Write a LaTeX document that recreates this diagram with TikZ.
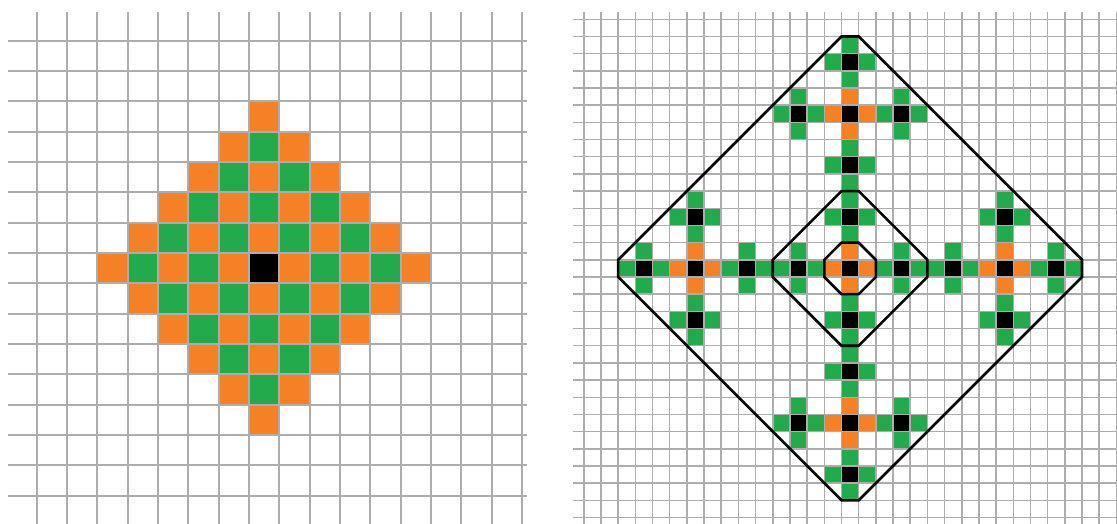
\documentclass[tikz,border=0pt]{standalone}
\usepackage{xcolor}
\definecolor{cellorange}{RGB}{245,128,37}
\definecolor{cellgreen}{RGB}{34,170,76}
\definecolor{gridgray}{RGB}{173,173,173}
\begin{document}
\begin{tikzpicture}[x=1pt,y=-1pt,
  gridA/.style={draw=gridgray,line width=2.1pt},
  gridB/.style={draw=gridgray,line width=1.5pt},
  oct/.style={draw=black,line width=2.6pt,line join=miter},
  og/.style={fill=cellorange},
  gg/.style={fill=cellgreen},
  bg/.style={fill=black}]
\fill[white] (0,0) rectangle (1117,524);
\useasboundingbox (0,0) rectangle (1117,524);

% ---------- left figure ----------
\begin{scope}[shift={(36.7,40.7)},x=30.33pt,y=-30.33pt]
  \foreach \k in {0,...,15}{
    \foreach \m in {0,...,14}{
      \pgfmathtruncatemacro{\d}{abs(\k-7)+abs(\m-7)}
      \ifnum\d<6
        \ifnum\d=0
          \fill[bg] (\k,\m) rectangle ++(1,1);
        \else
          \ifodd\d
            \fill[og] (\k,\m) rectangle ++(1,1);
          \else
            \fill[gg] (\k,\m) rectangle ++(1,1);
          \fi
        \fi
      \fi
    }
  }
\end{scope}
\foreach \k in {0,...,16}{
  \draw[gridA] ({36.7+30.33*\k},12) -- ({36.7+30.33*\k},524);
}
\foreach \m in {0,...,15}{
  \draw[gridA] (8,{40.7+30.33*\m}) -- (527,{40.7+30.33*\m});
}

% ---------- right figure ----------
\begin{scope}[shift={(841.5,277)},x=17.18pt,y=17.18pt]
  \foreach \cx/\cy in {0/0,9/0,-9/0,0/9,0/-9}{
    \fill[bg] (\cx,\cy) rectangle ++(1,1);
    \foreach \dx/\dy in {1/0,-1/0,0/1,0/-1}{
      \fill[og] ({\cx+\dx},{\cy+\dy}) rectangle ++(1,1);
      \fill[gg] ({\cx+2*\dx},{\cy+2*\dy}) rectangle ++(1,1);
      \fill[bg] ({\cx+3*\dx},{\cy+3*\dy}) rectangle ++(1,1);
      \fill[gg] ({\cx+4*\dx},{\cy+4*\dy}) rectangle ++(1,1);
      \fill[gg] ({\cx+3*\dx+\dy},{\cy+3*\dy+\dx}) rectangle ++(1,1);
      \fill[gg] ({\cx+3*\dx-\dy},{\cy+3*\dy-\dx}) rectangle ++(1,1);
    }
  }
\end{scope}
\foreach \i in {-15,...,16}{
  \draw[gridB] ({841.5+17.18*\i},11.7) -- ({841.5+17.18*\i},524);
}
\foreach \j in {-14,...,15}{
  \draw[gridB] (573,{277-17.18*\j}) -- (1117,{277-17.18*\j});
}
\begin{scope}[shift={(841.5,277)},x=17.18pt,y=17.18pt]
  \draw[oct] (0,14) -- (1,14) -- (14,1) -- (14,0) -- (1,-13) -- (0,-13) -- (-13,0) -- (-13,1) -- cycle;
  \draw[oct] (0,5) -- (1,5) -- (5,1) -- (5,0) -- (1,-4) -- (0,-4) -- (-4,0) -- (-4,1) -- cycle;
  \draw[oct] (0,2) -- (1,2) -- (2,1) -- (2,0) -- (1,-1) -- (0,-1) -- (-1,0) -- (-1,1) -- cycle;
\end{scope}
\end{tikzpicture}
\end{document}
